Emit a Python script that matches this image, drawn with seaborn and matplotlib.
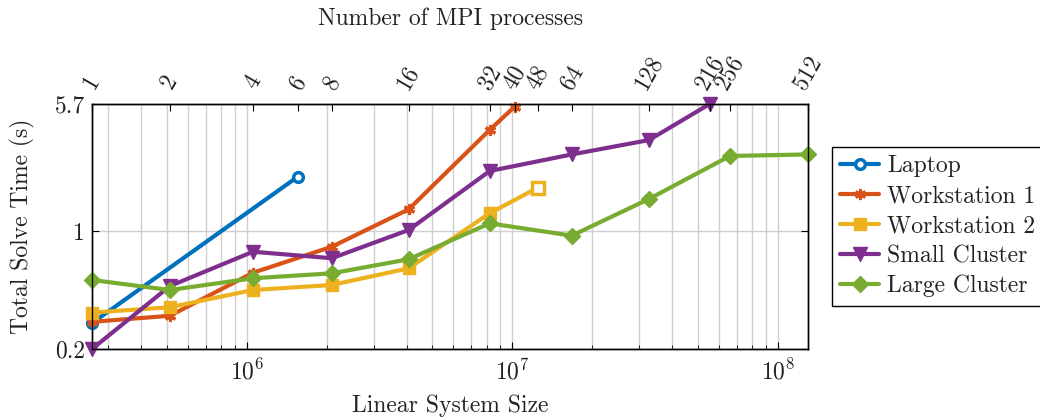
import matplotlib
matplotlib.use("Agg")
import matplotlib.pyplot as plt
from matplotlib.ticker import FixedLocator, NullLocator, LogLocator, FixedFormatter
import numpy as np
import pandas as pd
import seaborn as sns

# MPI process counts and the linear system size solved with each count
procs = [1, 2, 4, 6, 8, 16, 32, 40, 48, 64, 128, 216, 256, 512]
system_size = [2.61e5, 5.13e5, 1.054e6, 1.556e6, 2.09e6, 4.07e6, 8.22e6,
               1.021e7, 1.247e7, 1.675e7, 3.27e7, 5.54e7, 6.60e7, 1.30e8]

machines = ["Laptop", "Workstation 1", "Workstation 2", "Small Cluster", "Large Cluster"]

laptop_procs = [1, 6]
laptop_time = [0.285, 2.11]

ws1_procs = [1, 2, 4, 8, 16, 32, 40]
ws1_time = [0.29, 0.315, 0.567, 0.81, 1.35, 4.0, 5.5]

ws2_procs = [1, 2, 4, 8, 16, 32, 48]
ws2_time = [0.329, 0.354, 0.448, 0.48, 0.603, 1.28, 1.815]

small_procs = [1, 2, 4, 8, 16, 32, 64, 128, 216]
small_time = [0.2, 0.473, 0.756, 0.692, 1.018, 2.28, 2.86, 3.48, 5.7]

large_procs = [1, 2, 4, 8, 16, 32, 64, 128, 256, 512]
large_time = [0.514, 0.448, 0.526, 0.563, 0.682, 1.115, 0.942, 1.555, 2.80, 2.86]

y_ticks = [0.2, 1, 5.7]
y_ticklabels = ["0.2", "1", "5.7"]

size_of = dict(zip(procs, system_size))
rows = []
for name, ps, ts in zip(machines,
                        [laptop_procs, ws1_procs, ws2_procs, small_procs, large_procs],
                        [laptop_time, ws1_time, ws2_time, small_time, large_time]):
    for p, t in zip(ps, ts):
        rows.append({"machine": name, "procs": p, "size": size_of[p], "time": t})
df = pd.DataFrame(rows)

sns.set_theme(style="white")
FS = 17
plt.rcParams.update({
    "font.family": ["cmr10", "DejaVu Serif"],
    "mathtext.fontset": "cm",
    "axes.formatter.use_mathtext": True,
    "axes.unicode_minus": False,
    "font.size": FS,
    "axes.labelsize": FS,
    "xtick.labelsize": FS,
    "ytick.labelsize": FS,
    "legend.fontsize": FS,
    "axes.edgecolor": "black",
    "axes.linewidth": 1.0,
    "text.color": "#222222",
    "axes.labelcolor": "#222222",
    "xtick.labelcolor": "#222222",
    "ytick.labelcolor": "#222222",
})

colors = {"Laptop": "#0072BD", "Workstation 1": "#D95319", "Workstation 2": "#EDB120",
          "Small Cluster": "#7E2F8E", "Large Cluster": "#77AC30"}
styles = {
    "Laptop": dict(marker="o", markersize=7, markerfacecolor="white", markeredgewidth=2.5),
    "Workstation 1": dict(marker=(6, 2, 0), markersize=8, markeredgewidth=2.2),
    "Workstation 2": dict(marker="s", markersize=9, markeredgewidth=1),
    "Small Cluster": dict(marker="v", markersize=10, markeredgewidth=1),
    "Large Cluster": dict(marker="D", markersize=8, markeredgewidth=1),
}

fig = plt.figure(figsize=(10.4, 4.18), dpi=100)
ax = fig.add_axes([92 / 1040, 1 - 349 / 418, 716 / 1040, 245 / 418])

for name in machines:
    sub = df[df["machine"] == name]
    c = colors[name]
    st = styles[name]
    sns.lineplot(data=sub, x="size", y="time", ax=ax, color=c, lw=3.0,
                 estimator=None, sort=False, label=name, clip_on=False,
                 markeredgecolor=c, zorder=3, **st)

# final run on workstation 2 is drawn with an open square
last = df[df["machine"] == "Workstation 2"].iloc[-1]
ax.plot([last["size"]], [last["time"]], marker="s", markersize=9,
        markerfacecolor="white", markeredgecolor=colors["Workstation 2"],
        markeredgewidth=2.5, lw=0, clip_on=False, zorder=4)

ax.set_xscale("log")
ax.set_yscale("log")
ax.set_xlim(system_size[0], system_size[-1])
ax.set_ylim(y_ticks[0], y_ticks[-1])

ax.yaxis.set_major_locator(FixedLocator(y_ticks))
ax.yaxis.set_major_formatter(FixedFormatter(y_ticklabels))
ax.yaxis.set_minor_locator(NullLocator())
ax.xaxis.set_major_locator(LogLocator(base=10))
ax.xaxis.set_minor_locator(LogLocator(base=10, subs=np.arange(2, 10)))

ax.grid(True, which="major", axis="both", color="#cfcfcf", lw=1.0)
ax.grid(True, which="minor", axis="x", color="#cfcfcf", lw=1.0)
ax.set_axisbelow(True)

ax.tick_params(axis="both", which="both", direction="in", color="black")
ax.tick_params(axis="x", which="major", length=5, width=0.8, pad=7, top=False)
ax.tick_params(axis="x", which="minor", length=3, width=0.6, top=False)
ax.tick_params(axis="y", which="major", length=5, width=0.8, pad=5, left=True, right=True)

ax.set_xlabel("Linear System Size", labelpad=7)
ax.set_ylabel("Total Solve Time (s)", labelpad=14)

# top axis: number of MPI processes
ax2 = ax.twiny()
ax2.set_xscale("log")
ax2.set_xlim(ax.get_xlim())
ax2.xaxis.set_major_locator(FixedLocator(system_size))
ax2.xaxis.set_major_formatter(FixedFormatter([str(p) for p in procs]))
ax2.xaxis.set_minor_locator(NullLocator())
ax2.tick_params(axis="x", which="major", direction="in", length=5, width=0.8,
                pad=8, labelrotation=60, color="black")
ax2.grid(False)
ax2.set_xlabel("Number of MPI processes", labelpad=19)

handles, labels = ax.get_legend_handles_labels()
if ax.get_legend() is not None:
    ax.get_legend().remove()
leg = fig.legend(handles, labels, loc="upper left",
                 bbox_to_anchor=(832 / 1040, 1 - 147 / 418),
                 bbox_transform=fig.transFigure, frameon=True, fancybox=False,
                 edgecolor="black", framealpha=1, borderpad=0.35,
                 labelspacing=0.33, handlelength=1.65, handletextpad=0.35,
                 borderaxespad=0, fontsize=FS)
leg.get_frame().set_linewidth(1.0)

fig.savefig("out.png", dpi=100)
